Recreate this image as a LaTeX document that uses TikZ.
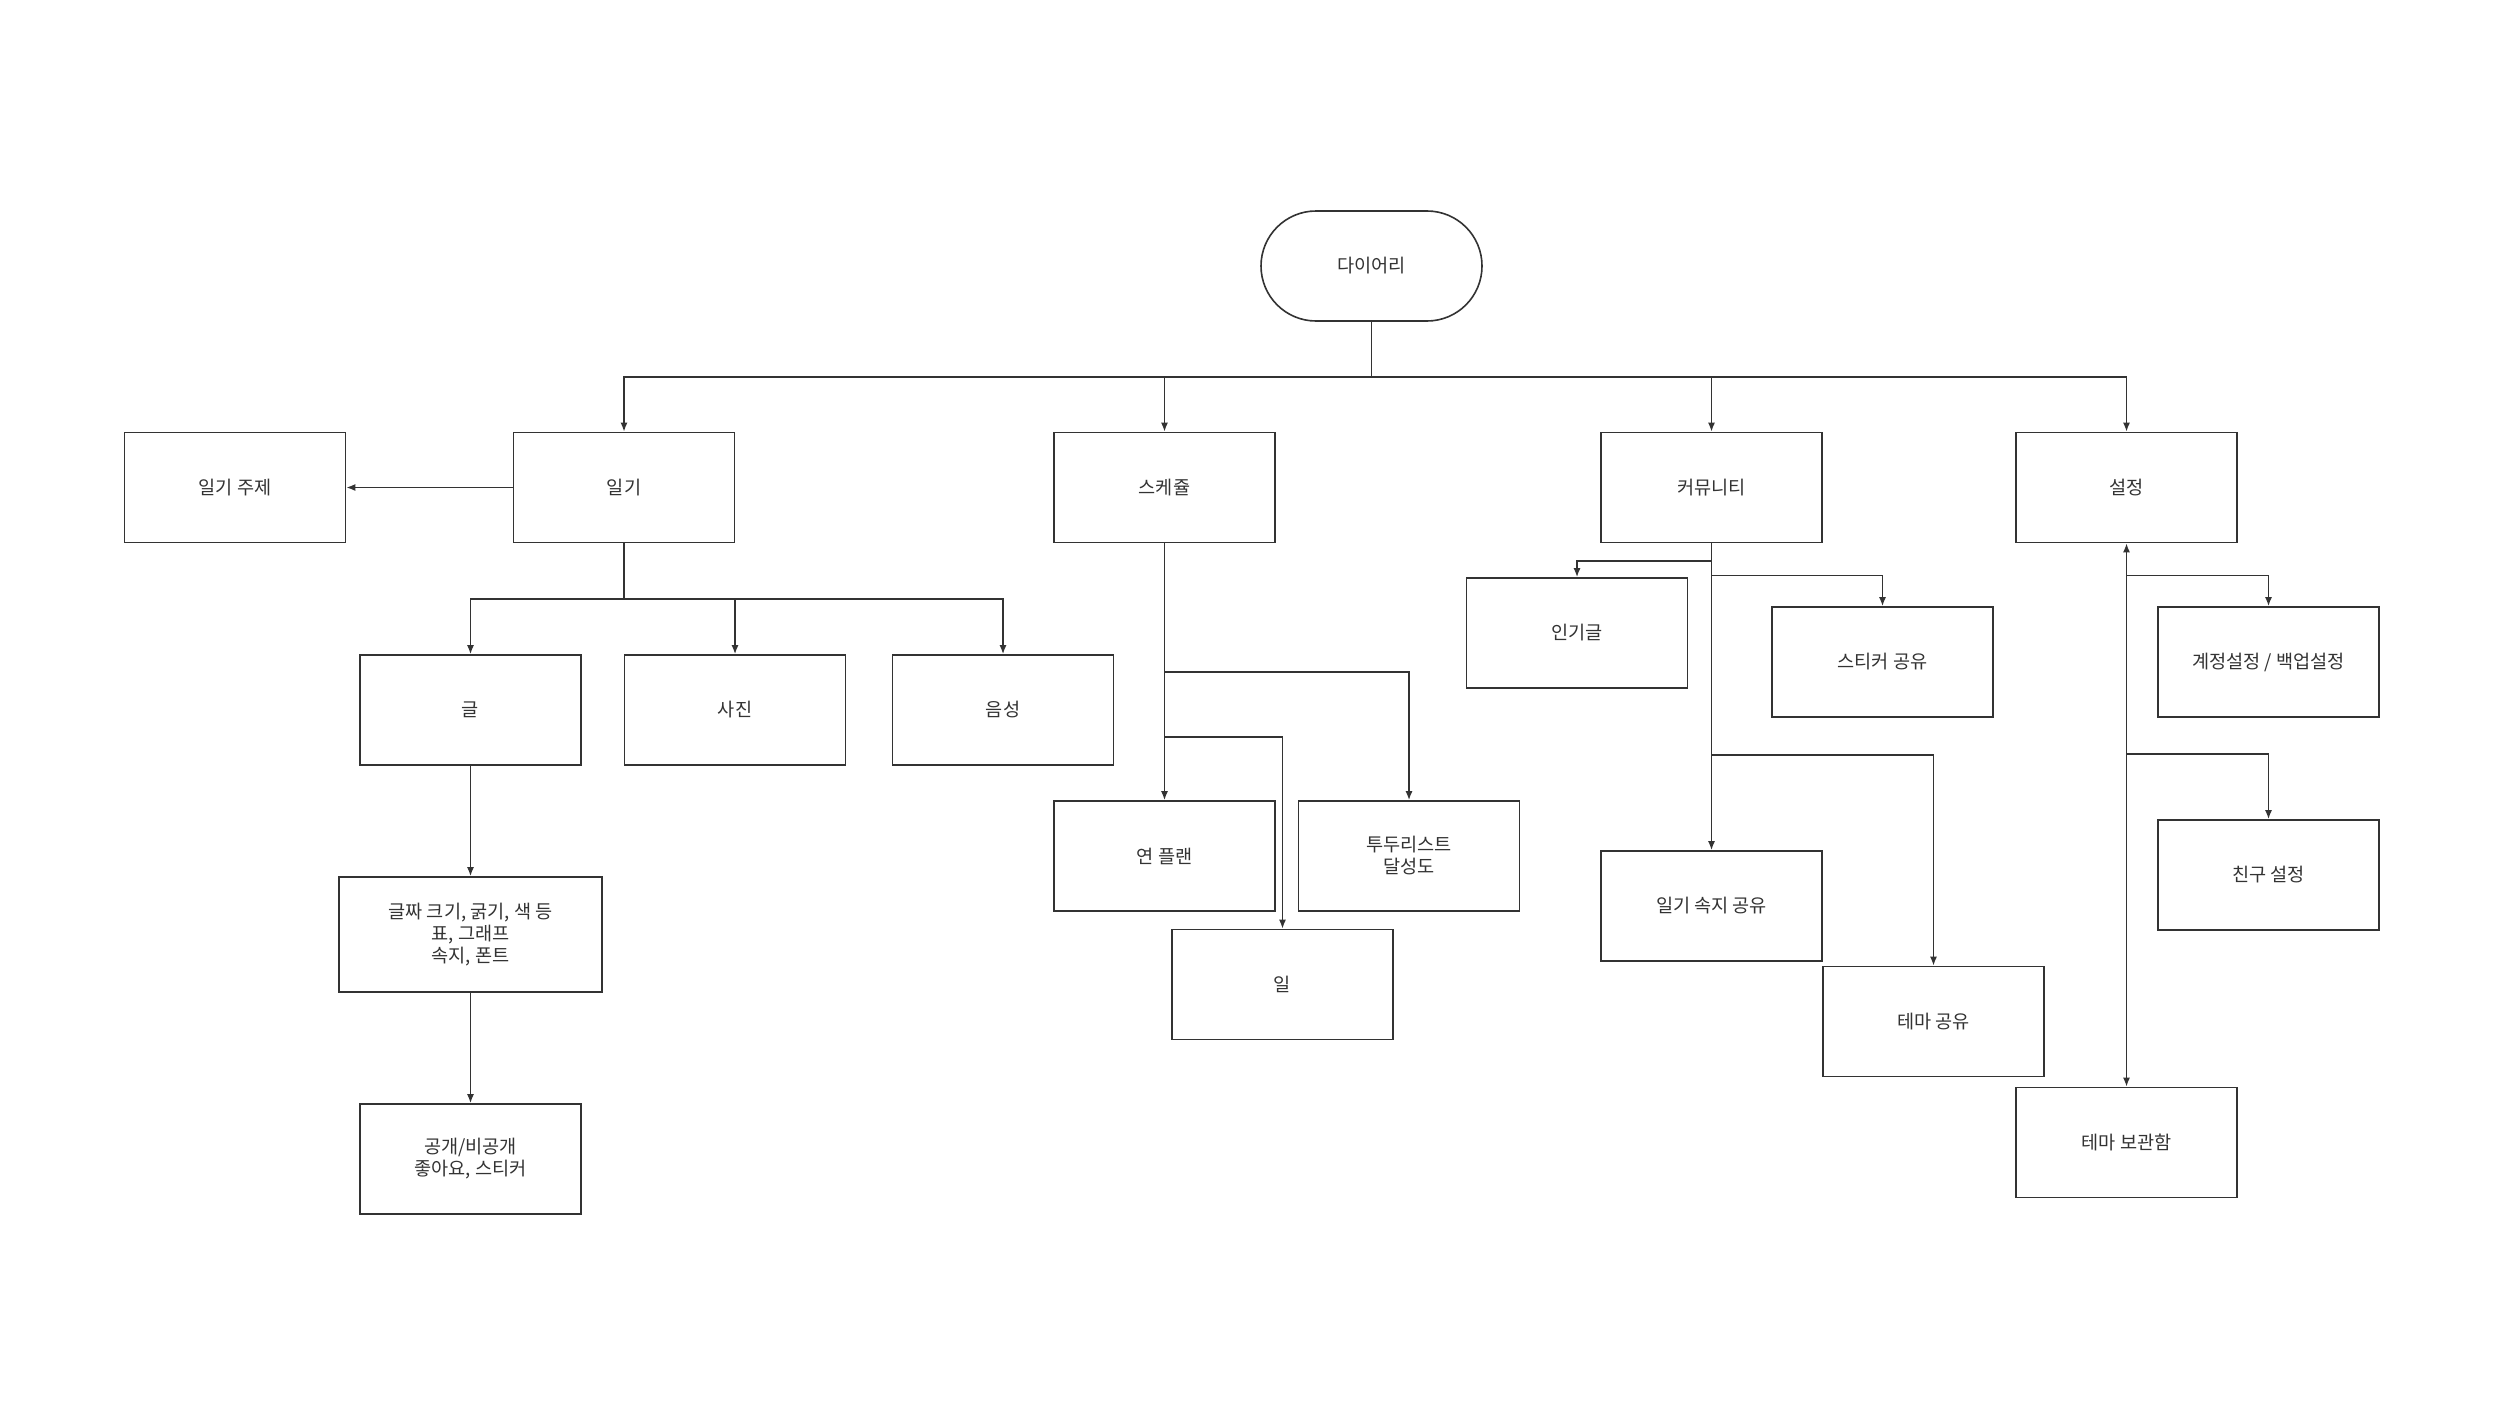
\documentclass[tikz,border=0pt]{standalone}
\usepackage{fontspec}
\setmainfont{Noto Sans CJK KR}
\usetikzlibrary{arrows.meta}
\definecolor{linec}{HTML}{333333}
\definecolor{textc}{HTML}{333333}
\tikzset{
  box/.style={draw=linec, line width=1.6pt, minimum width=221pt, minimum height=110pt, inner sep=0pt, align=center, font=\fontsize{18.6}{22}\selectfont, text=textc},
  conn/.style={draw=linec, line width=1.6pt},
  arr/.style={conn, -{Latex[length=9pt,width=7pt]}},
  biarr/.style={conn, {Latex[length=9pt,width=7pt]}-{Latex[length=9pt,width=7pt]}},
}
\begin{document}
\begin{tikzpicture}[x=1pt,y=-1pt]
\useasboundingbox[fill=white] (0,0) rectangle (2505,1426);
% nodes
\node[box, rounded corners=55pt] (diary) at (1371.5,266) {다이어리};
\node[box] (ilgi) at (624,487.5) {일기};
\node[box] (topic) at (235,487.5) {일기 주제};
\node[box] (sched) at (1164.5,487.5) {스케쥴};
\node[box] (comm) at (1711.5,487.5) {커뮤니티};
\node[box] (sett) at (2126.5,487.5) {설정};
\node[box] (geul) at (470.5,710) {글};
\node[box] (photo) at (735,710) {사진};
\node[box] (voice) at (1003,710) {음성};
\node[box, minimum width=263pt, minimum height=115pt] (font) at (470.5,934.5) {글짜 크기, 굵기, 색 등\\표, 그래프\\속지, 폰트};
\node[box] (pub) at (470.5,1159) {공개/비공개\\좋아요, 스티커};
\node[box] (year) at (1164.5,856) {연 플랜};
\node[box] (todo) at (1409,856) {투두리스트\\달성도};
\node[box] (day) at (1282.5,984.5) {일};
\node[box] (pop) at (1577,633) {인기글};
\node[box] (stick) at (1882.5,662) {스티커 공유};
\node[box] (paper) at (1711.5,906) {일기 속지 공유};
\node[box] (theme) at (1933.5,1021.5) {테마 공유};
\node[box] (acct) at (2268.5,662) {계정설정 / 백업설정};
\node[box] (friend) at (2268.5,875) {친구 설정};
\node[box] (store) at (2126.5,1142.5) {테마 보관함};
% junction coordinates
\coordinate (bus) at (1371.5,377);
\coordinate (b1) at (624,599);
\coordinate (s1) at (1164.5,672);
\coordinate (s2) at (1164.5,737);
\coordinate (c1) at (1711.5,561);
\coordinate (c2) at (1711.5,575.5);
\coordinate (c3) at (1711.5,755);
\coordinate (t1) at (2126.5,575.5);
\coordinate (t2) at (2126.5,754);
% connectors
\draw[arr] (diary.south) -- (bus) -| (ilgi.north);
\draw[arr] (bus) -| (sched.north);
\draw[arr] (bus) -| (comm.north);
\draw[arr] (bus) -| (sett.north);
\draw[arr] (ilgi.west) -- (topic.east);
\draw[arr] (ilgi.south) -- (b1) -| (geul.north);
\draw[arr] (b1) -| (photo.north);
\draw[arr] (b1) -| (voice.north);
\draw[arr] (geul.south) -- (font.north);
\draw[arr] (font.south) -- (pub.north);
\draw[arr] (sched.south) -- (year.north);
\draw[arr] (s1) -| (todo.north);
\draw[arr] (s2) -| (day.north);
\draw[arr] (comm.south) -- (paper.north);
\draw[arr] (c1) -| (pop.north);
\draw[arr] (c2) -| (stick.north);
\draw[arr] (c3) -| (theme.north);
\draw[biarr] (sett.south) -- (store.north);
\draw[arr] (t1) -| (acct.north);
\draw[arr] (t2) -| (friend.north);
\end{tikzpicture}
\end{document}
